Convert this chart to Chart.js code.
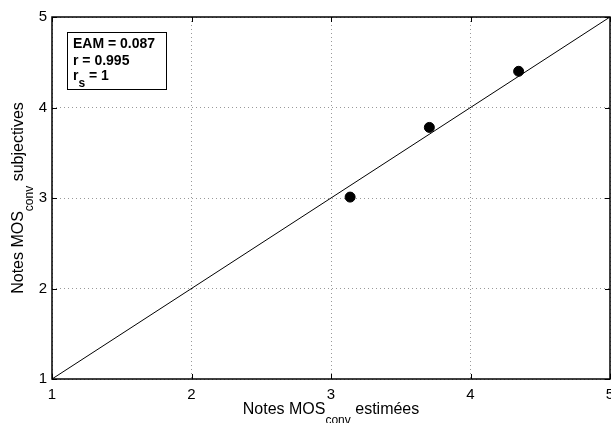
<!DOCTYPE html>
<html>
<head>
<meta charset="utf-8">
<script src="https://cdn.jsdelivr.net/npm/chart.js@4/dist/chart.umd.min.js"></script>
<style>
  html, body { margin: 0; padding: 0; background: #fff; }
  #wrap { width: 611px; height: 423px; overflow: hidden; }
</style>
</head>
<body>
<div id="wrap"><canvas id="myChart" width="616" height="423"></canvas></div>
<script>
// values
var estimated = [3.137, 3.705, 4.345];
var subjective = [3.01, 3.78, 4.40];
var diagonal = [1, 5];
var ticks = [1, 2, 3, 4, 5];
var statsLines = [['EAM = 0.087', ''], ['r = 0.995', ''], ['r', 's', ' = 1']];

var FONT = '"Liberation Sans", Arial, sans-serif';

var points = estimated.map(function (v, i) { return { x: v, y: subjective[i] }; });
var lineData = diagonal.map(function (v) { return { x: v, y: v }; });

// frame, inner ticks, axis titles with subscripts, stats box
var decor = {
  id: 'decor',
  afterDraw: function (chart) {
    var c = chart.ctx, a = chart.chartArea;
    var xs = chart.scales.x, ys = chart.scales.y;
    c.save();
    c.strokeStyle = '#000';
    c.lineWidth = 1;
    ticks.forEach(function (t) {
      var px = Math.round(xs.getPixelForValue(t)) + 0.5;
      var py = Math.round(ys.getPixelForValue(t)) + 0.5;
      c.beginPath();
      c.moveTo(px, a.bottom); c.lineTo(px, a.bottom - 5);
      c.moveTo(px, a.top); c.lineTo(px, a.top + 5);
      c.moveTo(a.left, py); c.lineTo(a.left + 5, py);
      c.moveTo(a.right, py); c.lineTo(a.right - 5, py);
      c.stroke();
    });
    c.lineWidth = 1.5;
    c.strokeRect(a.left, a.top, a.right - a.left, a.bottom - a.top);

    // x title
    c.fillStyle = '#000';
    c.textBaseline = 'middle';
    c.textAlign = 'left';
    c.font = '12px ' + FONT;
    var wsub = c.measureText('conv').width;
    c.font = '16px ' + FONT;
    var p1 = 'Notes MOS', p3 = ' estimées';
    var w1 = c.measureText(p1).width, w3 = c.measureText(p3).width;
    var total = w1 + wsub + w3;
    var x0 = 331 - total / 2, ty = 410;
    c.fillText(p1, x0, ty);
    c.font = '12px ' + FONT;
    c.fillText('conv', x0 + w1, ty + 11);
    c.font = '16px ' + FONT;
    c.fillText(p3, x0 + w1 + wsub, ty);

    // y title
    c.save();
    c.translate(19, (a.top + a.bottom) / 2);
    c.rotate(-Math.PI / 2);
    var q1 = 'Notes MOS', q3 = ' subjectives';
    var v1 = c.measureText(q1).width, v3 = c.measureText(q3).width;
    var y0 = -(v1 + wsub + v3) / 2;
    c.fillText(q1, y0, 0);
    c.font = '12px ' + FONT;
    c.fillText('conv', y0 + v1, 11);
    c.font = '16px ' + FONT;
    c.fillText(q3, y0 + v1 + wsub, 0);
    c.restore();

    // stats box
    c.fillStyle = '#fff';
    c.fillRect(67, 32, 99, 57);
    c.lineWidth = 1;
    c.strokeStyle = '#000';
    c.strokeRect(67.5, 32.5, 99, 57);
    c.fillStyle = '#000';
    var ly = [44, 61, 76];
    statsLines.forEach(function (ln, i) {
      var x = 73;
      c.font = 'bold 14px ' + FONT;
      c.fillText(ln[0], x, ly[i]);
      x += c.measureText(ln[0]).width;
      if (ln[1]) {
        c.font = 'bold 12px ' + FONT;
        c.fillText(ln[1], x, ly[i] + 8);
        x += c.measureText(ln[1]).width;
        c.font = 'bold 14px ' + FONT;
        c.fillText(ln[2], x, ly[i]);
      }
    });
    c.restore();
  }
};

var ctx = document.getElementById('myChart').getContext('2d');
var myChart = new Chart(ctx, {
  type: 'scatter',
  data: {
    datasets: [{
      type: 'line',
      data: lineData,
      borderColor: '#000',
      borderWidth: 1,
      pointRadius: 0,
      fill: false
    }, {
      data: points,
      backgroundColor: '#000',
      borderColor: '#000',
      pointRadius: 5,
      pointHoverRadius: 5
    }]
  },
  options: {
    responsive: false,
    animation: false,
    events: [],
    layout: { padding: { top: 17, right: 3, left: 0, bottom: 0 } },
    plugins: { legend: { display: false }, tooltip: { enabled: false } },
    scales: {
      x: {
        type: 'linear', min: 1, max: 5,
        afterBuildTicks: function (s) { s.ticks = ticks.map(function (v) { return { value: v }; }); },
        afterFit: function (s) { s.height = 44; s.paddingLeft = 0; s.paddingRight = 0; },
        grid: { color: '#999', lineWidth: 1, drawTicks: false },
        border: { display: false, dash: [1, 3] },
        ticks: { color: '#000', font: { family: FONT, size: 15 }, padding: 7, maxRotation: 0, autoSkip: false }
      },
      y: {
        type: 'linear', min: 1, max: 5,
        afterBuildTicks: function (s) { s.ticks = ticks.map(function (v) { return { value: v }; }); },
        afterFit: function (s) { s.width = 52; s.paddingTop = 0; s.paddingBottom = 0; },
        grid: { color: '#999', lineWidth: 1, drawTicks: false },
        border: { display: false, dash: [1, 3] },
        ticks: { color: '#000', font: { family: FONT, size: 15 }, padding: 5 }
      }
    }
  },
  plugins: [decor]
});
</script>
</body>
</html>
